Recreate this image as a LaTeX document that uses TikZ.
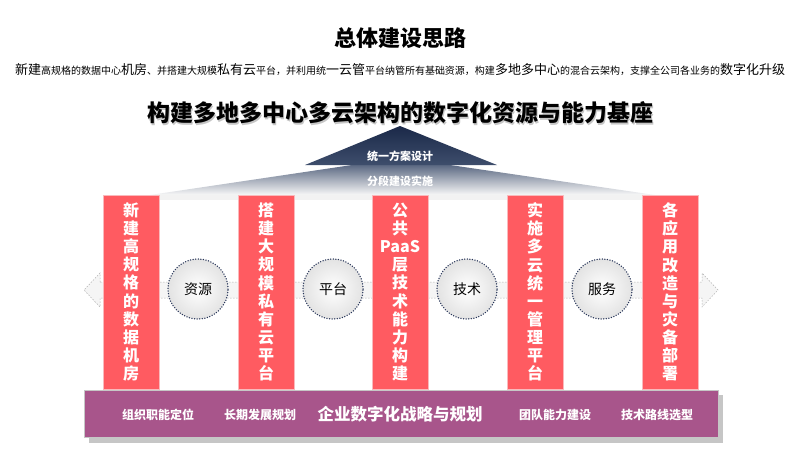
\documentclass[tikz,border=0pt]{standalone}
\usepackage{fontspec}
\setmainfont{Noto Sans CJK SC}
\usepackage{tikz}
\usetikzlibrary{arrows.meta,calc}

\definecolor{pillarred}{RGB}{255,91,97}
\definecolor{pillaredge}{RGB}{250,185,188}
\definecolor{basepurple}{RGB}{168,85,139}
\definecolor{roofnavy}{RGB}{26,40,72}
\definecolor{roofmid}{RGB}{62,78,108}
\definecolor{dotnavy}{RGB}{38,52,88}

\newcommand{\bigtxt}{\fontsize{13}{13}\selectfont}
\newcommand{\smalltxt}{\fontsize{10}{10}\selectfont}

\tikzset{
    pillar/.style={fill=pillarred, draw=pillaredge, line width=0.8pt, text=white,
        minimum width=56pt, minimum height=194pt, inner sep=0pt, align=center,
        font=\bfseries\fontsize{16}{18.1}\selectfont},
    hub/.style={circle, minimum size=60pt, inner sep=0pt, inner color=white, outer color=gray!22,
        draw=dotnavy, line width=1.5pt, dash pattern=on 0pt off 2.6pt, line cap=round,
        font=\fontsize{14}{14}\selectfont},
    basetxt/.style={text=white, font=\bfseries\fontsize{12}{12}\selectfont},
}

\begin{document}
\begin{tikzpicture}[x=1pt, y=-1pt]
    \useasboundingbox (0,0) rectangle (800,450);

    % 标题与说明
    \node[font=\bfseries\fontsize{22}{22}\selectfont] (title) at (400,38) {总体建设思路};
    \node[inner sep=0pt] (intro) at (400,70) {\bigtxt 新建\smalltxt 高规格的数据中心\bigtxt 机房\smalltxt 、并搭建大规模\bigtxt 私有云\smalltxt 平台，并利用统\bigtxt 一云管\smalltxt 平台纳管所有基础资源，构建\bigtxt 多地多中心\smalltxt 的混合云架构，支撑全公司各业务的\bigtxt 数字化升级};
    \node[text=gray!45, font=\bfseries\fontsize{23}{23}\selectfont] at (401.5,114.5) {构建多地多中心多云架构的数字化资源与能力基座};
    \node[font=\bfseries\fontsize{23}{23}\selectfont] (head) at (400,113) {构建多地多中心多云架构的数字化资源与能力基座};

    % 屋顶 (下层渐变 + 上层三角形)
    \coordinate (apex) at (400,126);
    \shade[top color=roofmid!85, bottom color=gray!6] (150,195) -- (352,165) -- (450,165) -- (655,195) -- cycle;
    \shade[top color=roofnavy, bottom color=roofmid] (apex) -- (497,165) -- (305,165) -- cycle;
    \node[text=white, font=\bfseries\fontsize{11}{11}\selectfont] (plan) at (400,156) {统一方案设计};
    \node[text=white, font=\bfseries\fontsize{11}{11}\selectfont] (stage) at (400,181) {分段建设实施};
    \fill[gray!10] (103,195) rectangle (698,200);

    % 双向箭头横带
    \draw[gray!60, fill=gray!8, line width=0.5pt, dash pattern=on 1.5pt off 1.5pt]
        (100,282) -- (702,282) -- (702,273) -- (718,290) -- (702,307) -- (702,298)
        -- (100,298) -- (100,307) -- (84,290) -- (100,273) -- cycle;

    % 五根立柱
    \foreach \x/\txt [count=\i] in {131/{新\\建\\高\\规\\格\\的\\数\\据\\机\\房},
                                    266/{搭\\建\\大\\规\\模\\私\\有\\云\\平\\台},
                                    400/{公\\共\\PaaS\\层\\技\\术\\能\\力\\构\\建},
                                    535/{实\\施\\多\\云\\统\\一\\管\\理\\平\\台},
                                    670/{各\\应\\用\\改\\造\\与\\灾\\备\\部\\署}} {
        \node[pillar] (p\i) at (\x,292) {\txt};
    }

    % 圆形节点
    \foreach \x/\txt [count=\i] in {198/资源, 333/平台, 467/技术, 602/服务} {
        \node[hub] (h\i) at (\x,289) {\txt};
    }

    % 底座
    \fill[gray!45] (89,395) rectangle (723,443);
    \node[fill=basepurple, draw=gray!45, line width=0.8pt, minimum width=634pt, minimum height=47pt,
        inner sep=0pt] (base) at (401,413.5) {};
    \node[basetxt] (b1) at (158,415) {组织职能定位};
    \node[basetxt] (b2) at (260,415) {长期发展规划};
    \node[text=white, font=\bfseries\fontsize{16.5}{16.5}\selectfont] (b3) at (400,414) {企业数字化战略与规划};
    \node[basetxt] (b4) at (555,415) {团队能力建设};
    \node[basetxt] (b5) at (657,415) {技术路线选型};
\end{tikzpicture}
\end{document}
